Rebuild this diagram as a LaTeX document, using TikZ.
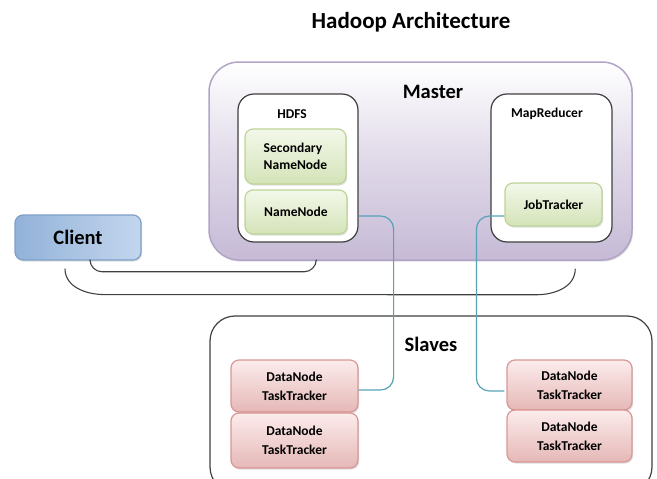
\documentclass[tikz,border=0pt]{standalone}
\usepackage{fontspec}
\setmainfont{Carlito}
\usetikzlibrary{shadows,calc}
\definecolor{lav}{RGB}{198,186,214}
\definecolor{lavborder}{RGB}{178,164,198}
\definecolor{grnTop}{RGB}{243,248,234}
\definecolor{grnBot}{RGB}{212,227,184}
\definecolor{grnLine}{RGB}{190,212,150}
\definecolor{pnkTop}{RGB}{252,236,236}
\definecolor{pnkBot}{RGB}{229,184,183}
\definecolor{pnkLine}{RGB}{217,150,148}
\definecolor{bluTop}{RGB}{196,214,238}
\definecolor{bluBot}{RGB}{146,178,216}
\definecolor{bluLine}{RGB}{126,160,200}
\definecolor{wire}{RGB}{64,64,64}
\definecolor{tealwire}{RGB}{86,163,184}
\tikzset{
  boxfont/.style={font=\bfseries\fontsize{13.5}{17}\selectfont},
  bigfont/.style={font=\bfseries\fontsize{20.5}{24}\selectfont},
  softshadow/.style={drop shadow={opacity=0.25, shadow xshift=1.2pt, shadow yshift=-1.6pt}},
  masterbox/.style={draw=lavborder, line width=1.5pt, rounded corners=30,
    top color=white, bottom color=lav, middle color=lav!55, softshadow, inner sep=0},
  groupbox/.style={draw=wire, line width=1.2pt, rounded corners=16, fill=white, inner sep=0},
  greenbox/.style={draw=grnLine, line width=1.2pt, rounded corners=8,
    top color=grnTop, bottom color=grnBot, softshadow, boxfont, inner sep=0},
  pinkbox/.style={draw=pnkLine, line width=1.2pt, rounded corners=8,
    top color=pnkTop, bottom color=pnkBot, softshadow, boxfont, inner sep=0,
    align=center, font=\bfseries\fontsize{13.5}{19}\selectfont},
  clientbox/.style={draw=bluLine, line width=1.2pt, rounded corners=8,
    left color=bluBot, right color=bluTop, softshadow, bigfont, inner sep=0},
  slavebox/.style={draw=wire, line width=1.2pt, rounded corners=25, inner sep=0},
  label/.style={inner sep=0},
  greyline/.style={draw=wire, line width=1.1pt},
  tealline/.style={draw=tealwire, line width=1.2pt},
}
\begin{document}
\begin{tikzpicture}[x=1pt,y=-1pt]
\useasboundingbox (0,0) rectangle (657,479);
\clip (0,0) rectangle (657,479);

% title
\node[label, font=\bfseries\fontsize{23}{27}\selectfont] (title) at (411,22) {Hadoop Architecture};

% master with its two groups
\node[masterbox, minimum width=423pt, minimum height=198pt] (master) at (420.5,161) {};
\node[label, bigfont] (masterlbl) at (433,92) {Master};
\node[groupbox, minimum width=120pt, minimum height=148pt] (hdfs) at (298,168) {};
\node[label, boxfont] (hdfslbl) at (292,114) {HDFS};
\node[groupbox, minimum width=121pt, minimum height=148pt] (mr) at (551.5,168) {};
\node[label, boxfont] (mrlbl) at (547,114) {MapReducer};
\node[greenbox, align=left, minimum width=101pt, minimum height=55pt] (snn) at (295.5,156.5) {Secondary\\NameNode};
\node[greenbox, minimum width=102pt, minimum height=44pt] (nn) at (296,212) {NameNode};
\node[greenbox, minimum width=97pt, minimum height=43pt] (jt) at (553.5,204.5) {JobTracker};

% client
\node[clientbox, minimum width=126pt, minimum height=45pt] (client) at (78,237.5) {Client};

% slaves
\node[slavebox, minimum width=442pt, minimum height=176pt] (slaves) at (431,404) {};
\node[label, bigfont] (slaveslbl) at (431,344) {Slaves};
\node[pinkbox, minimum width=127pt, minimum height=52pt] (dn1) at (294.5,386) {DataNode\\TaskTracker};
\node[pinkbox, minimum width=127pt, minimum height=55pt] (dn2) at (294.5,440.5) {DataNode\\TaskTracker};
\node[pinkbox, minimum width=125pt, minimum height=50pt] (dn3) at (569.5,385) {DataNode\\TaskTracker};
\node[pinkbox, minimum width=125pt, minimum height=52pt] (dn4) at (569.5,436) {DataNode\\TaskTracker};

% client links
\draw[greyline, rounded corners=12] ($(client.south)+(12,0)$) |- ($(master.south west)+(108,11)$) -- ($(master.south west)+(108,0)$);
\draw[greyline] ($(client.south)+(-13,8)$) to[out=-90,in=180] ++(40,26)
  -- ($(master.south west)+(328,34)$) to[out=0,in=-90] ($(master.south west)+(367,8)$);

% master to slave links
\draw[tealline, rounded corners=13] ($(hdfs.east |- nn.center)+(0,4)$) -- ++(35,0) |- ($(dn1.east)+(0,4)$);
\draw[tealline, rounded corners=13] ($(jt.west)+(0,11.5)$) -- ++(-28,0) |- ($(dn3.west)+(-2,6)$);
\end{tikzpicture}
\end{document}
